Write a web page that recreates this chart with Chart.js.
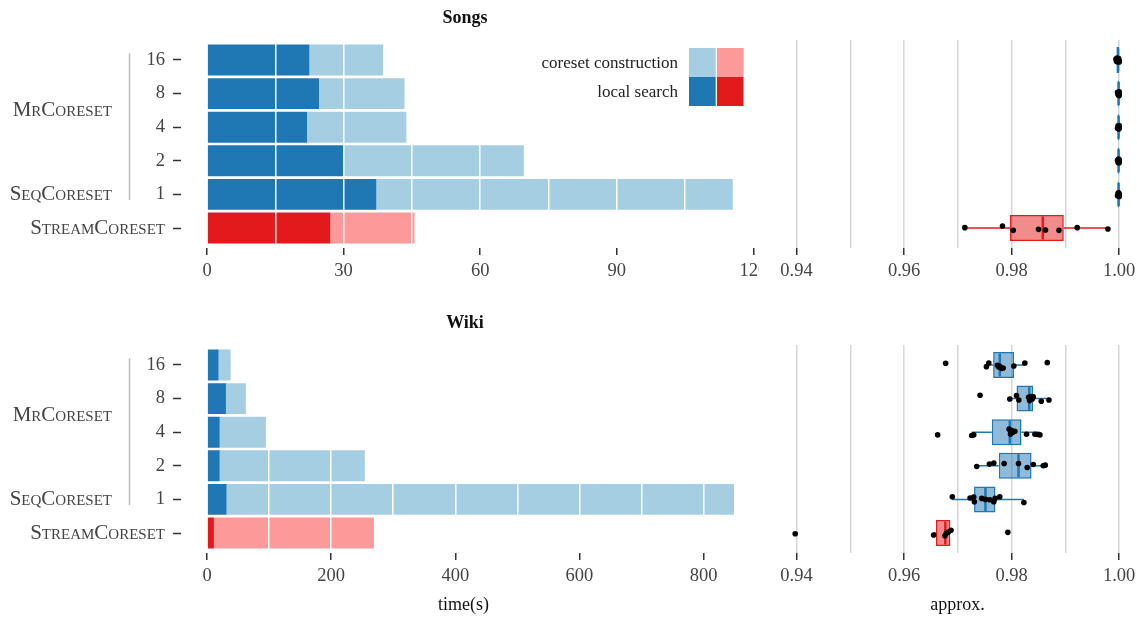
<!DOCTYPE html>
<html>
<head>
<meta charset="utf-8">
<script src="https://cdn.jsdelivr.net/npm/chart.js@4.4.1/dist/chart.umd.min.js"></script>
<style>
  html, body { margin: 0; padding: 0; background: #fff; width: 1137px; height: 618px; overflow: hidden; }
  #wrap { position: relative; width: 1137px; height: 618px; overflow: hidden; }
  canvas { position: absolute; }
</style>
</head>
<body>
<div id="wrap">
  <canvas id="songsTime" width="780" height="305" style="left:0;top:0;z-index:1"></canvas>
  <canvas id="songsApprox" width="392" height="305" style="left:759px;top:0;z-index:2"></canvas>
  <canvas id="wikiTime" width="780" height="313" style="left:0;top:305px;z-index:1"></canvas>
  <canvas id="wikiApprox" width="392" height="313" style="left:759px;top:305px;z-index:2"></canvas>
</div>
<script>
// ---- rows (top to bottom) ----
const rowLabels = ['16', '8', '4', '2', '1', 'StreamCoreset'];
const groupLabels = ['MrCoreset', 'SeqCoreset'];
const groupRows = [[0, 3], [4, 4]];
const legendLabels = ['coreset construction', 'local search'];

// ---- running time (s), stacked: local search + coreset construction ----
const songsLocal   = [22.5, 24.6, 22.0, 29.9, 37.2, 27.1];
const songsCoreset = [16.2, 18.8, 21.8, 39.7, 78.3, 18.5];
const wikiLocal    = [18.7, 30.5, 20.5, 20.5, 31.6, 11.1];
const wikiCoreset  = [19.4, 32.2, 74.4, 233.7, 817.4, 257.7];

// ---- approximation ratio: box statistics per row ----
const songsQ1  = [0.9995, 0.9997, 0.9997, 0.9997, 0.9997, 0.9797];
const songsQ3  = [1.0000, 1.0000, 1.0000, 1.0000, 1.0000, 0.9897];
const songsMed = [0.9998, 0.9999, 0.9999, 0.9999, 0.9999, 0.9858];
const songsLo  = [0.9994, 0.9997, 0.9997, 0.9997, 0.9997, 0.9713];
const songsHi  = [1.0000, 1.0000, 1.0000, 1.0000, 1.0000, 0.9979];

const wikiQ1  = [0.97656, 0.98091, 0.97631, 0.97761, 0.97301, 0.96593];
const wikiQ3  = [0.98047, 0.98402, 0.98184, 0.98371, 0.97699, 0.96860];
const wikiMed = [0.97780, 0.98327, 0.97966, 0.98128, 0.97513, 0.96767];
const wikiLo  = [0.97531, 0.97966, 0.97258, 0.97351, 0.96897, 0.96549];
const wikiHi  = [0.98246, 0.98694, 0.98526, 0.98625, 0.98228, 0.96872];

// ---- approximation ratio: individual runs and their vertical jitter (row units) ----
const songsRuns = [
  [0.9994, 0.9995, 0.9996, 0.9997, 0.9998, 0.9999, 1.0000, 1.0000],
  [0.9997, 0.9998, 0.9999, 0.9999, 1.0000, 1.0000, 1.0000],
  [0.9997, 0.9998, 0.9999, 0.9999, 1.0000, 1.0000, 1.0000],
  [0.9997, 0.9998, 0.9999, 0.9999, 1.0000, 1.0000, 1.0000],
  [0.9997, 0.9998, 0.9999, 0.9999, 1.0000, 1.0000, 1.0000],
  [0.9713, 0.9783, 0.9803, 0.9850, 0.9863, 0.9888, 0.9922, 0.9979]
];
const songsJitter = [
  [-0.03, 0.04, -0.06, 0.05, 0.00, -0.04, 0.06, 0.02],
  [-0.04, 0.03, -0.02, 0.05, -0.05, 0.02, 0.06],
  [0.03, -0.04, 0.05, -0.02, 0.04, -0.05, 0.01],
  [-0.02, 0.05, -0.05, 0.03, 0.06, -0.03, 0.01],
  [0.04, -0.03, 0.02, -0.05, 0.05, -0.01, 0.06],
  [-0.01, -0.06, 0.07, 0.04, 0.06, 0.07, -0.01, 0.03]
];
const wikiRuns = [
  [0.96773, 0.97531, 0.97575, 0.97736, 0.97761, 0.97780, 0.97811, 0.97842, 0.98041, 0.98246, 0.98663],
  [0.97413, 0.97966, 0.98091, 0.98134, 0.98315, 0.98333, 0.98352, 0.98383, 0.98402, 0.98551, 0.98694],
  [0.96624, 0.97258, 0.97295, 0.97954, 0.97979, 0.97998, 0.98022, 0.98060, 0.98277, 0.98433, 0.98476, 0.98526],
  [0.97351, 0.97587, 0.97668, 0.97861, 0.98128, 0.98290, 0.98402, 0.98588, 0.98625],
  [0.96897, 0.97227, 0.97295, 0.97307, 0.97444, 0.97513, 0.97593, 0.97668, 0.97693, 0.97780, 0.98228],
  [0.93975, 0.96549, 0.96760, 0.96785, 0.96823, 0.96872, 0.97929]
];
const wikiJitter = [
  [-0.05, 0.05, -0.06, 0.01, 0.06, 0.04, 0.10, 0.09, 0.03, -0.06, -0.07],
  [-0.10, 0.01, -0.09, 0.04, -0.04, 0.06, -0.06, 0.01, -0.05, 0.08, 0.04],
  [0.08, 0.10, 0.08, -0.09, 0.05, -0.05, 0.00, -0.03, 0.06, 0.06, 0.07, 0.08],
  [0.02, -0.05, -0.08, -0.07, -0.07, 0.05, -0.04, 0.00, -0.02],
  [-0.08, -0.04, -0.07, 0.07, -0.03, 0.00, 0.01, 0.07, -0.03, -0.08, 0.09],
  [0.02, 0.06, 0.08, 0.01, -0.03, -0.08, -0.02]
];

// ---- styling ----
const FONT = "'Liberation Serif', 'Times New Roman', serif";
const BLUE = { dark: '#1f78b4', light: '#a6cee3', box: 'rgba(31,120,180,0.5)' };
const RED  = { dark: '#e31a1c', light: '#fb9a99', box: 'rgba(227,26,28,0.5)' };
const STREAM_ROW = rowLabels.length - 1;
const rowPalette = rowLabels.map((_, i) => (i === STREAM_ROW ? RED : BLUE));
const TICK_COLOR = '#333';
const LABEL_COLOR = '#444';
const TICK_SIZE = 18.5;
const CAPS_SIZE = 21;
const Y_MIN = -0.595, Y_MAX = 5.595;
const APPROX_LEFT = 759;      // page x of the approximation canvas
const APPROX_AREA_RIGHT = 1135.3;

const toRows = values => values.map((v, i) => ({ x: v, y: i }));
const toRanges = (lo, hi) => lo.map((v, i) => ({ x: [v, hi[i]], y: i }));
const isMultiple = (v, step) => Math.abs(v / step - Math.round(v / step)) < 1e-6;

// Title, method groups and legend drawn around the time panel
const timeDecor = {
  id: 'timeDecor',
  afterDraw(chart, args, o) {
    const { ctx } = chart;
    const y = chart.scales.y;
    ctx.save();
    ctx.textBaseline = 'middle';

    ctx.fillStyle = '#111';
    ctx.font = `bold 18px ${FONT}`;
    ctx.textAlign = 'center';
    ctx.fillText(o.title, 465, 18);

    // bracket joining the MrCoreset and SeqCoreset rows
    ctx.strokeStyle = '#bcbcbc';
    ctx.lineWidth = 1.5;
    ctx.beginPath();
    ctx.moveTo(129.5, y.getPixelForValue(groupRows[0][0] - 0.2));
    ctx.lineTo(129.5, y.getPixelForValue(groupRows[groupRows.length - 1][1] + 0.17));
    ctx.stroke();

    ctx.font = `small-caps ${CAPS_SIZE}px ${FONT}`;
    ctx.textAlign = 'right';
    ctx.fillStyle = LABEL_COLOR;
    groupLabels.forEach((g, k) => {
      const [a, b] = groupRows[k];
      ctx.fillText(g, 112, y.getPixelForValue((a + b) / 2));
    });

    if (o.legend) {
      const swatches = [[BLUE.light, RED.light], [BLUE.dark, RED.dark]];
      const top = 48, h = 29;
      legendLabels.forEach((lab, r) => {
        const y0 = top + r * h;
        ctx.fillStyle = swatches[r][0];
        ctx.fillRect(689, y0, 26.7, h);
        ctx.fillStyle = swatches[r][1];
        ctx.fillRect(717, y0, 26.5, h);
        ctx.fillStyle = '#222';
        ctx.font = `17px ${FONT}`;
        ctx.fillText(lab, 678, y0 + h / 2 + 1);
      });
    }

    if (o.xTitle) {
      ctx.fillStyle = '#111';
      ctx.font = `18px ${FONT}`;
      ctx.textAlign = 'center';
      ctx.fillText(o.xTitle, 463.5, 300);
    }
    ctx.restore();
  }
};

function timeChart(id, local, coreset, axis, extra) {
  const canvas = document.getElementById(id);
  return new Chart(canvas, {
    type: 'bar',
    data: {
      datasets: [
        { label: legendLabels[1], data: toRows(local), backgroundColor: rowPalette.map(p => p.dark) },
        { label: legendLabels[0], data: toRows(coreset), backgroundColor: rowPalette.map(p => p.light) }
      ]
    },
    options: {
      responsive: false,
      animation: false,
      indexAxis: 'y',
      datasets: { bar: { categoryPercentage: 1, barPercentage: 0.92, borderWidth: 0 } },
      layout: { autoPadding: false, padding: { left: 0, right: canvas.width - 759.2, top: 40, bottom: extra.bottom } },
      plugins: { legend: { display: false }, tooltip: { enabled: false }, timeDecor: extra },
      scales: {
        x: {
          type: 'linear', stacked: true, min: 0, max: axis.max, offset: false,
          border: { display: false },
          grid: {
            z: 1, offset: false, color: '#ffffff', lineWidth: 1.5,
            tickLength: 7, tickWidth: 1.5,
            tickColor: c => (c.tick && isMultiple(c.tick.value, axis.major) ? TICK_COLOR : 'rgba(0,0,0,0)')
          },
          ticks: {
            stepSize: axis.minor, includeBounds: false, autoSkip: false, maxRotation: 0, padding: 5,
            color: LABEL_COLOR, font: { family: FONT, size: TICK_SIZE },
            callback: v => (isMultiple(v, axis.major) ? String(Math.round(v)) : '')
          },
          afterFit: s => { s.height = 57; }
        },
        y: {
          type: 'linear', stacked: true, reverse: true, min: Y_MIN, max: Y_MAX, offset: false,
          border: { display: false },
          grid: {
            offset: false, drawOnChartArea: false, tickLength: 34, tickWidth: 1.5, tickColor: TICK_COLOR,
            tickBorderDash: [8, 60]
          },
          ticks: {
            stepSize: 1, includeBounds: false, autoSkip: false, padding: 8, color: LABEL_COLOR,
            font: c => (c.tick && c.tick.value === STREAM_ROW
              ? { family: FONT, size: CAPS_SIZE, weight: 'small-caps' }
              : { family: FONT, size: TICK_SIZE }),
            callback: v => (rowLabels[v] !== undefined ? rowLabels[v] : '')
          },
          afterFit: s => { s.width = 207; }
        }
      }
    },
    plugins: [timeDecor]
  });
}

// White panel background and axis caption for the approximation panel
const approxDecor = {
  id: 'approxDecor',
  beforeDraw(chart) {
    const { ctx } = chart;
    ctx.save();
    ctx.fillStyle = '#ffffff';
    ctx.fillRect(0, 0, chart.width, chart.height);
    ctx.restore();
  },
  afterDraw(chart, args, o) {
    if (!o.xTitle) return;
    const { ctx } = chart;
    ctx.save();
    ctx.fillStyle = '#111';
    ctx.font = `18px ${FONT}`;
    ctx.textAlign = 'center';
    ctx.textBaseline = 'middle';
    ctx.fillText(o.xTitle, 957.5 - APPROX_LEFT, 300);
    ctx.restore();
  }
};

function approxChart(id, q1, q3, med, lo, hi, runs, jitter, extra) {
  const canvas = document.getElementById(id);
  const points = [];
  runs.forEach((row, i) => row.forEach((v, k) => points.push({ x: v, y: i + jitter[i][k] })));
  const edge = rowPalette.map(p => p.dark);
  const whisker = { type: 'bar', indexAxis: 'y', grouped: false, categoryPercentage: 1, barPercentage: 0.045,
                    backgroundColor: edge, borderWidth: 0, order: 3 };
  return new Chart(canvas, {
    type: 'bar',
    data: {
      datasets: [
        Object.assign({ label: 'lower whisker', data: toRanges(lo, q1) }, whisker),
        Object.assign({ label: 'upper whisker', data: toRanges(q3, hi) }, whisker),
        { type: 'bar', label: 'interquartile range', indexAxis: 'y', grouped: false, data: toRanges(q1, q3),
          categoryPercentage: 1, barPercentage: 0.774, backgroundColor: rowPalette.map(p => p.box),
          borderColor: edge, borderWidth: 1.5, borderSkipped: false, order: 2 },
        { type: 'scatter', label: 'median', data: toRows(med), pointStyle: 'line', rotation: 90,
          radius: 11.5, borderWidth: 2.5, borderColor: edge, order: 1 },
        { type: 'scatter', label: 'runs', data: points, pointStyle: 'circle', radius: 2.8,
          backgroundColor: '#000', borderWidth: 0, order: 0 }
      ]
    },
    options: {
      responsive: false,
      animation: false,
      layout: {
        autoPadding: false,
        padding: { left: 1, right: canvas.width - (APPROX_AREA_RIGHT - APPROX_LEFT), top: 40, bottom: extra.bottom }
      },
      plugins: { legend: { display: false }, tooltip: { enabled: false }, approxDecor: extra },
      scales: {
        x: {
          type: 'linear', min: 0.9332, max: 1.003, offset: false,
          border: { display: false },
          grid: {
            offset: false, color: '#d6d6d6', lineWidth: 1.5, tickLength: 7, tickWidth: 1.5,
            tickColor: c => (c.tick && isMultiple(c.tick.value, 0.02) ? TICK_COLOR : 'rgba(0,0,0,0)')
          },
          ticks: {
            stepSize: 0.01, includeBounds: false, autoSkip: false, maxRotation: 0, padding: 5,
            color: LABEL_COLOR, font: { family: FONT, size: TICK_SIZE },
            callback: v => (isMultiple(v, 0.02) ? v.toFixed(2) : '')
          },
          afterFit: s => { s.height = 57; }
        },
        y: {
          type: 'linear', display: false, reverse: true, min: Y_MIN, max: Y_MAX, offset: false,
          ticks: { stepSize: 1, includeBounds: false }
        }
      }
    },
    plugins: [approxDecor]
  });
}

timeChart('songsTime', songsLocal, songsCoreset, { max: 121.3, minor: 15, major: 30 },
          { title: 'Songs', legend: true, bottom: 0 });
timeChart('wikiTime', wikiLocal, wikiCoreset, { max: 889.5, minor: 100, major: 200 },
          { title: 'Wiki', legend: false, xTitle: 'time(s)', bottom: 8 });
approxChart('songsApprox', songsQ1, songsQ3, songsMed, songsLo, songsHi, songsRuns, songsJitter, { bottom: 0 });
approxChart('wikiApprox', wikiQ1, wikiQ3, wikiMed, wikiLo, wikiHi, wikiRuns, wikiJitter,
            { bottom: 8, xTitle: 'approx.' });
</script>
</body>
</html>
